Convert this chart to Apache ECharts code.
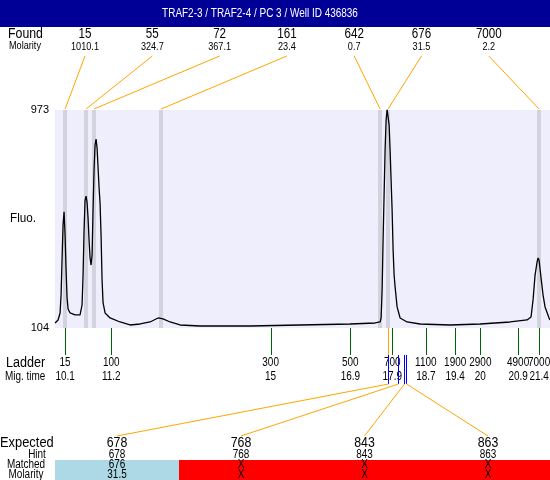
<!DOCTYPE html>
<html><head><meta charset="utf-8">
<script src="https://cdn.jsdelivr.net/npm/echarts@6/dist/echarts.min.js"></script>
<style>html,body{margin:0;padding:0;background:#fff}#c{width:550px;height:480px}</style>
</head><body><div id="c"></div>
<script>
// ---------------- data ----------------
const chartTitle = 'TRAF2-3 / TRAF2-4 / PC 3 / Well ID 436836';
const yTickLabels = [104, 973];
const xRange = [9.86, 21.66];

const foundSizes = ['15', '55', '72', '161', '642', '676', '7000'];
const foundMolarity = ['1010.1', '324.7', '367.1', '23.4', '0.7', '31.5', '2.2'];
const foundTimes = [10.10, 10.60, 10.79, 12.39, 17.61, 17.80, 21.40];

const ladderSizes = ['15', '100', '300', '500', '700', '1100', '1900', '2900', '4900', '7000'];
const ladderTimes = [10.1, 11.2, 15, 16.9, 17.9, 18.7, 19.4, 20, 20.9, 21.4];

const expectedSizes = ['678', '768', '843', '863'];
const hintSizes = ['678', '768', '843', '863'];
const matchedSizes = ['676', 'X', 'X', 'X'];
const matchedMolarity = ['31.5', 'X', 'X', 'X'];
const expectedTimes = [17.81, 18.05, 18.19, 18.23];
const matchedTimes = [17.80];

const traceTimes = [9.862, 9.933, 9.981, 10.005, 10.028, 10.052, 10.076, 10.100, 10.124, 10.148, 10.172, 10.219,
  10.338, 10.458, 10.505, 10.529, 10.553, 10.577, 10.601, 10.624, 10.648, 10.672, 10.696, 10.720, 10.744, 10.767,
  10.791, 10.815, 10.839, 10.863, 10.887, 10.911, 10.934, 10.958, 10.982, 11.006, 11.054, 11.173, 11.411, 11.649,
  11.888, 12.126, 12.317, 12.436, 12.603, 12.841, 13.318, 14.510, 15.702, 16.894, 17.490, 17.610, 17.634, 17.658,
  17.681, 17.705, 17.729, 17.753, 17.777, 17.801, 17.825, 17.848, 17.872, 17.896, 17.920, 17.944, 17.968, 18.015,
  18.087, 18.252, 18.562, 19.277, 19.993, 20.708, 21.113, 21.208, 21.256, 21.304, 21.352, 21.375, 21.399, 21.447,
  21.494, 21.542, 21.637, 21.660];
const traceFluo = [124, 136, 164, 236, 375, 515, 567, 475, 335, 224, 180, 164,
  156, 156, 196, 315, 495, 614, 630, 606, 542, 455, 383, 355, 395, 574,
  734, 833, 857, 821, 742, 662, 602, 475, 295, 204, 164, 144, 128, 116,
  120, 128, 144, 140, 128, 116, 112, 112, 116, 120, 124, 128, 144, 255,
  455, 634, 813, 933, 975, 975, 913, 813, 694, 574, 415, 315, 267, 188,
  144, 128, 120, 116, 120, 128, 136, 148, 216, 315, 367, 383, 375, 303,
  236, 188, 144, 136];

// ---------------- chart ----------------
const FONT = '"Liberation Sans", Arial, sans-serif';
const NARROW = 0.83;
const yMin = yTickLabels[0], yMax = yTickLabels[yTickLabels.length - 1];
const chart = echarts.init(document.getElementById('c'), null, { renderer: 'canvas' });

function txt(x, y, s, size, align, color, sx) {
  return { type: 'text', x: x, y: y, scaleX: sx || NARROW,
    style: { text: s, fill: color || '#000', font: size + 'px ' + FONT, align: align || 'center', verticalAlign: 'middle' } };
}

const foundColX = i => 85 + i * 67.3;
const tableColW = 123.75;

chart.setOption({
  animation: false,
  backgroundColor: '#fff',
  grid: { left: 55, right: 0, top: 110, bottom: 152, show: true, backgroundColor: '#eeeefc', borderWidth: 0 },
  xAxis: { type: 'value', min: xRange[0], max: xRange[1], show: false },
  yAxis: {
    type: 'value', min: yMin, max: yMax,
    axisLine: { show: false }, axisTick: { show: false }, splitLine: { show: false },
    axisLabel: { customValues: yTickLabels, color: '#000', fontSize: 11, fontFamily: FONT, margin: 6 }
  },
  graphic: [
    { type: 'rect', shape: { x: 0, y: 0, width: 550, height: 27 }, style: { fill: '#000096' } },
    txt(260, 14, chartTitle, 12, 'center', '#fff'),
    txt(8, 34, 'Found', 14, 'left', '#000', 0.88),
    txt(9, 46, 'Molarity', 11, 'left'),
    txt(10, 218, 'Fluo.', 13, 'left', '#000', 0.9),
    txt(6, 363, 'Ladder', 14, 'left', '#000', 0.9),
    txt(5, 377, 'Mig. time', 12, 'left'),
    txt(0, 443, 'Expected', 14, 'left', '#000', 0.92),
    txt(37, 455, 'Hint', 12, 'center'),
    txt(26, 465, 'Matched', 12, 'center'),
    txt(26, 475, 'Molarity', 12, 'center')
  ],
  series: [
    {
      name: 'bands', type: 'custom', z: 1, silent: true,
      data: foundTimes.map((t, i) => [t, i]),
      renderItem(params, api) {
        const t = api.value(0);
        const p0 = api.coord([t, yMax]);
        const p1 = api.coord([t, yMin]);
        return { type: 'rect', shape: { x: Math.round(p0[0]) - 2, y: p0[1], width: 4, height: p1[1] - p0[1] }, style: { fill: '#d3d3e0' } };
      }
    },
    {
      name: 'trace', type: 'line', z: 3, showSymbol: false, silent: true,
      data: traceTimes.map((t, i) => [t, traceFluo[i]]),
      lineStyle: { color: '#000', width: 1.3 }
    },
    {
      name: 'found', type: 'custom', z: 4, silent: true, clip: false,
      data: foundTimes.map((t, i) => [t, i]),
      renderItem(params, api) {
        const t = api.value(0), i = api.value(1);
        const p = api.coord([t, yMax]);
        const cx = foundColX(i);
        return { type: 'group', children: [
          { type: 'line', shape: { x1: cx, y1: 56, x2: p[0], y2: p[1] - 1 }, style: { stroke: '#ffa500', lineWidth: 1 } },
          txt(cx, 34, foundSizes[i], 14),
          txt(cx, 47, foundMolarity[i], 11)
        ] };
      }
    },
    {
      name: 'ladder', type: 'custom', z: 4, silent: true, clip: false,
      data: ladderTimes.map((t, i) => [t, i]),
      renderItem(params, api) {
        const t = api.value(0), i = api.value(1);
        const p = api.coord([t, yMin]);
        const x = Math.round(p[0]) + 0.5;
        return { type: 'group', children: [
          { type: 'line', shape: { x1: x, y1: p[1], x2: x, y2: p[1] + 27 }, style: { stroke: '#006400', lineWidth: 1 } },
          txt(p[0], p[1] + 35, ladderSizes[i], 12),
          txt(p[0], p[1] + 49, String(t), 12)
        ] };
      }
    },
    {
      name: 'matched', type: 'custom', z: 4, silent: true, clip: false,
      data: matchedTimes.map(t => [t, 0]),
      renderItem(params, api) {
        const p = api.coord([api.value(0), yMin]);
        const x = Math.round(p[0]) + 0.5;
        return { type: 'line', shape: { x1: x, y1: p[1], x2: x, y2: p[1] + 56 }, style: { stroke: '#ffa500', lineWidth: 1 } };
      }
    },
    {
      name: 'expected', type: 'custom', z: 5, silent: true, clip: false,
      data: expectedTimes.map((t, i) => [t, i]),
      renderItem(params, api) {
        const t = api.value(0), i = api.value(1);
        const p = api.coord([t, yMin]);
        const l = Math.round(55 + i * tableColW);
        const r = Math.round(55 + (i + 1) * tableColW);
        const cx = (l + r) / 2;
        const ok = matchedSizes[i] !== 'X';
        const bx = Math.floor(p[0]) + 0.5;
        return { type: 'group', children: [
          { type: 'rect', shape: { x: l, y: 460, width: r - l, height: 20 }, style: { fill: ok ? '#add8e6' : '#ff0000' } },
          { type: 'line', shape: { x1: bx, y1: p[1] + 27, x2: bx, y2: p[1] + 56 }, style: { stroke: '#0000ff', lineWidth: 1 } },
          { type: 'line', shape: { x1: bx, y1: p[1] + 56, x2: cx, y2: 436 }, style: { stroke: '#ffa500', lineWidth: 1 } },
          txt(cx, 443, expectedSizes[i], 14, 'center', '#000', 0.88),
          txt(cx, 455, hintSizes[i], 12),
          txt(cx, 465, matchedSizes[i], 12),
          txt(cx, 475, matchedMolarity[i], 12)
        ] };
      }
    }
  ]
});
</script>
</body></html>
